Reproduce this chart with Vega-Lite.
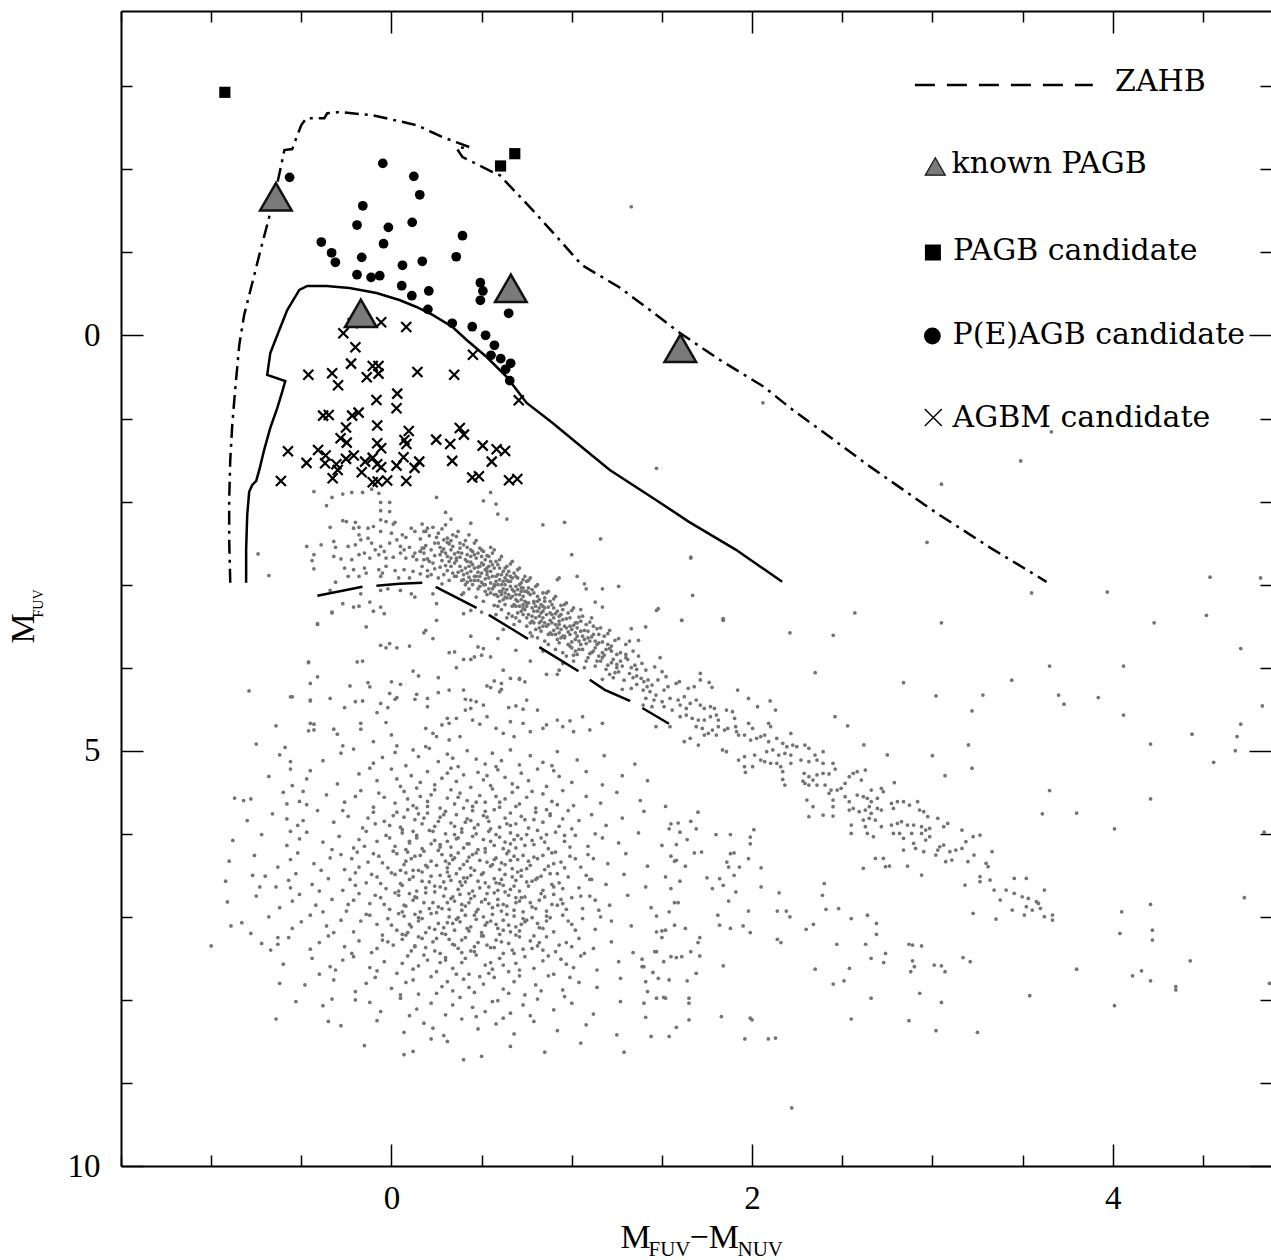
{
"$schema":"https://vega.github.io/schema/vega-lite/v6.json",
"width":1150,"height":1155,
"autosize":{"type":"none"},
"padding":{"left":121,"top":11,"right":0,"bottom":94},
"background":"white",
"config":{"view":{"stroke":null},"axis":{"grid":false,"domainColor":"#000","domainWidth":2,"tickColor":"#000","tickWidth":1.5,"labelFont":"Liberation Serif","labelFontSize":32,"labelColor":"#000","titleFont":"Liberation Serif","titleColor":"#000","titleFontWeight":"normal","labelFlush":false,"labelOverlap":false}},
"datasets":{
"dots":[
{"x":-0.43,"y":1.88},{"x":-0.36,"y":2.05},{"x":-0.33,"y":1.95},{"x":-0.27,"y":1.91},{"x":-0.22,"y":1.89},{"x":-0.16,"y":1.89},{"x":-0.11,"y":1.85},{"x":-0.07,"y":1.9},{"x":-0.06,"y":2.01},{"x":-0.01,"y":2.01},{"x":-0.06,"y":2.11},{"x":-0.01,"y":2.12},{"x":0.25,"y":1.95},{"x":0.3,"y":2.13},{"x":0.33,"y":2.21},{"x":0.51,"y":1.99},{"x":0.55,"y":1.89},{"x":0.58,"y":2.03},{"x":0.59,"y":2.15},{"x":0.64,"y":2.21},{"x":0.44,"y":2.26},{"x":0.84,"y":2.28},{"x":0.96,"y":2.25},{"x":1.16,"y":2.45},{"x":-0.34,"y":2.31},{"x":-0.27,"y":2.23},{"x":-0.25,"y":2.24},{"x":-0.2,"y":2.25},{"x":-0.18,"y":2.31},{"x":-0.21,"y":2.32},{"x":-0.18,"y":2.4},{"x":-0.13,"y":2.32},{"x":-0.1,"y":2.3},{"x":-0.06,"y":2.22},{"x":-0.03,"y":2.24},{"x":0.01,"y":2.27},{"x":0.02,"y":2.25},{"x":-0.06,"y":2.36},{"x":0.0,"y":2.38},{"x":0.03,"y":2.46},{"x":0.06,"y":2.4},{"x":0.08,"y":2.43},{"x":0.11,"y":2.32},{"x":0.13,"y":2.36},{"x":0.17,"y":2.27},{"x":0.18,"y":2.36},{"x":0.2,"y":2.32},{"x":-0.32,"y":2.48},{"x":-0.31,"y":2.55},{"x":-0.24,"y":2.54},{"x":-0.2,"y":2.52},{"x":-0.17,"y":2.46},{"x":-0.13,"y":2.44},{"x":-0.11,"y":2.5},{"x":-0.09,"y":2.58},{"x":-0.06,"y":2.54},{"x":-0.04,"y":2.6},{"x":-0.01,"y":2.5},{"x":0.05,"y":2.54},{"x":0.07,"y":2.58},{"x":0.1,"y":2.55},{"x":0.13,"y":2.62},{"x":0.16,"y":2.6},{"x":0.18,"y":2.56},{"x":-0.47,"y":2.54},{"x":-0.39,"y":2.52},{"x":-0.43,"y":2.64},{"x":-0.44,"y":2.71},{"x":-0.32,"y":2.66},{"x":-0.28,"y":2.69},{"x":-0.22,"y":2.7},{"x":-0.18,"y":2.64},{"x":-0.15,"y":2.62},{"x":-0.12,"y":2.68},{"x":-0.07,"y":2.64},{"x":-0.03,"y":2.68},{"x":0.01,"y":2.67},{"x":0.05,"y":2.62},{"x":0.08,"y":2.68},{"x":0.12,"y":2.66},{"x":0.14,"y":2.7},{"x":-0.26,"y":2.8},{"x":-0.21,"y":2.82},{"x":-0.15,"y":2.8},{"x":-0.14,"y":2.86},{"x":-0.07,"y":2.82},{"x":-0.05,"y":2.86},{"x":-0.03,"y":2.78},{"x":0.02,"y":2.83},{"x":0.07,"y":2.82},{"x":0.12,"y":2.84},{"x":-0.24,"y":2.9},{"x":-0.43,"y":2.81},{"x":-0.31,"y":2.97},{"x":-0.18,"y":2.9},{"x":-0.06,"y":2.9},{"x":0.04,"y":2.92},{"x":0.1,"y":2.92},{"x":0.16,"y":2.87},{"x":0.2,"y":2.9},{"x":-0.34,"y":3.07},{"x":-0.17,"y":3.11},{"x":-0.06,"y":3.07},{"x":-0.02,"y":3.05},{"x":0.05,"y":3.07},{"x":0.11,"y":3.11},{"x":0.13,"y":3.15},{"x":0.23,"y":3.11},{"x":0.25,"y":3.23},{"x":-0.27,"y":3.23},{"x":-0.21,"y":3.27},{"x":-0.18,"y":3.26},{"x":-0.12,"y":3.21},{"x":-0.1,"y":3.32},{"x":-0.06,"y":3.27},{"x":-0.04,"y":3.35},{"x":-0.33,"y":3.34},{"x":-0.41,"y":3.47},{"x":-0.14,"y":3.51},{"x":0.4,"y":3.35},{"x":0.44,"y":3.31},{"x":0.5,"y":3.33},{"x":0.25,"y":3.43},{"x":0.19,"y":3.55},{"x":0.18,"y":3.58},{"x":0.23,"y":3.65},{"x":0.44,"y":3.62},{"x":0.59,"y":3.65},{"x":0.62,"y":3.54},{"x":0.69,"y":3.79},{"x":0.77,"y":3.92},{"x":0.84,"y":3.8},{"x":-0.01,"y":3.71},{"x":-0.03,"y":3.76},{"x":-0.06,"y":3.73},{"x":0.03,"y":3.76},{"x":0.1,"y":3.74},{"x":-0.19,"y":3.93},{"x":-0.16,"y":3.92},{"x":-0.46,"y":3.94},{"x":-0.41,"y":4.11},{"x":-0.45,"y":4.19},{"x":0.12,"y":4.04},{"x":0.15,"y":4.1},{"x":0.26,"y":4.12},{"x":0.32,"y":3.82},{"x":0.35,"y":3.81},{"x":0.36,"y":4.0},{"x":0.4,"y":3.9},{"x":0.44,"y":3.9},{"x":0.46,"y":3.87},{"x":0.5,"y":3.85},{"x":0.55,"y":3.87},{"x":0.48,"y":3.75},{"x":0.51,"y":3.77},{"x":0.62,"y":4.03},{"x":0.57,"y":4.16},{"x":0.61,"y":4.19},{"x":0.66,"y":4.13},{"x":0.71,"y":4.13},{"x":0.74,"y":4.17},{"x":0.86,"y":4.08},{"x":0.92,"y":4.08},{"x":0.95,"y":3.95},{"x":0.93,"y":4.03},{"x":1.01,"y":3.85},{"x":-0.23,"y":4.22},{"x":-0.13,"y":4.18},{"x":-0.12,"y":4.23},{"x":0.0,"y":4.17},{"x":0.05,"y":4.2},{"x":-0.01,"y":4.31},{"x":0.03,"y":4.36},{"x":0.02,"y":4.38},{"x":0.14,"y":4.32},{"x":0.13,"y":4.38},{"x":0.2,"y":4.37},{"x":0.2,"y":4.47},{"x":0.26,"y":4.3},{"x":0.32,"y":4.27},{"x":0.4,"y":4.27},{"x":0.41,"y":4.38},{"x":0.44,"y":4.39},{"x":0.47,"y":4.41},{"x":0.51,"y":4.45},{"x":0.53,"y":4.22},{"x":0.55,"y":4.24},{"x":0.6,"y":4.29},{"x":0.61,"y":4.26},{"x":0.71,"y":4.14},{"x":0.75,"y":4.39},{"x":0.65,"y":4.48},{"x":0.69,"y":4.46},{"x":0.73,"y":4.5},{"x":0.81,"y":4.51},{"x":0.86,"y":4.69},{"x":0.84,"y":4.73},{"x":0.92,"y":4.63},{"x":0.95,"y":4.71},{"x":0.99,"y":4.64},{"x":1.01,"y":4.77},{"x":1.06,"y":4.59},{"x":1.1,"y":4.75},{"x":1.17,"y":4.67},{"x":-0.34,"y":4.37},{"x":-0.26,"y":4.48},{"x":-0.2,"y":4.41},{"x":-0.16,"y":4.4},{"x":-0.06,"y":4.43},{"x":-0.02,"y":4.48},{"x":-0.45,"y":4.39},{"x":-0.55,"y":4.35},{"x":-0.45,"y":4.67},{"x":-0.43,"y":4.75},{"x":-0.32,"y":4.74},{"x":-0.3,"y":4.8},{"x":-0.17,"y":4.74},{"x":-0.17,"y":4.67},{"x":-0.08,"y":4.54},{"x":-0.03,"y":4.66},{"x":0.0,"y":4.81},{"x":-0.1,"y":4.89},{"x":0.03,"y":4.94},{"x":0.19,"y":4.73},{"x":0.23,"y":4.79},{"x":0.28,"y":4.69},{"x":0.31,"y":4.61},{"x":0.32,"y":4.67},{"x":0.36,"y":4.61},{"x":0.41,"y":4.51},{"x":0.44,"y":4.49},{"x":0.45,"y":4.63},{"x":0.49,"y":4.68},{"x":0.53,"y":4.59},{"x":0.58,"y":4.73},{"x":0.62,"y":4.79},{"x":0.68,"y":4.83},{"x":0.77,"y":4.77},{"x":0.66,"y":4.65},{"x":0.73,"y":4.67},{"x":-0.27,"y":4.94},{"x":0.19,"y":4.95},{"x":0.25,"y":4.83},{"x":0.32,"y":4.87},{"x":0.38,"y":4.83},
{"x":1.47,"y":3.31},{"x":1.61,"y":3.43},{"x":1.67,"y":3.13},{"x":1.66,"y":2.67},{"x":1.84,"y":3.42},{"x":1.41,"y":3.51},{"x":1.33,"y":3.53},{"x":1.37,"y":3.67},{"x":1.49,"y":3.88},{"x":1.46,"y":3.99},{"x":1.26,"y":3.02},{"x":1.03,"y":2.9},{"x":1.08,"y":3.05},{"x":1.17,"y":3.05},{"x":1.13,"y":3.21},{"x":1.17,"y":3.27},{"x":1.07,"y":2.99},{"x":1.0,"y":2.64},{"x":0.92,"y":2.94},{"x":0.93,"y":2.92},
{"x":1.33,"y":-1.55},{"x":2.06,"y":0.81},{"x":1.47,"y":1.6},{"x":3.49,"y":1.51},{"x":3.05,"y":1.79},{"x":1.66,"y":2.68},{"x":2.97,"y":2.49},{"x":3.55,"y":3.1},{"x":3.97,"y":3.09},{"x":4.54,"y":2.91},{"x":4.82,"y":2.92},{"x":4.52,"y":3.37},{"x":2.57,"y":3.34},{"x":1.84,"y":3.41},{"x":1.48,"y":3.29},{"x":3.66,"y":1.16},{"x":2.22,"y":9.3},{"x":0.07,"y":8.66},{"x":0.22,"y":8.47},{"x":1.29,"y":8.63},
{"x":1.61,"y":3.43},{"x":1.84,"y":3.43},{"x":2.21,"y":3.58},{"x":2.45,"y":3.61},{"x":3.05,"y":3.46},{"x":4.23,"y":3.46},{"x":4.71,"y":3.77},{"x":3.65,"y":3.98},{"x":4.06,"y":3.98},{"x":3.44,"y":4.15},{"x":2.84,"y":4.18},{"x":3.02,"y":4.34},{"x":3.28,"y":4.33},{"x":3.7,"y":4.33},{"x":3.73,"y":4.44},{"x":3.92,"y":4.36},{"x":4.06,"y":4.57},{"x":4.83,"y":4.46},{"x":3.22,"y":4.52},{"x":2.46,"y":4.59},{"x":2.53,"y":4.7},{"x":4.44,"y":4.8},{"x":4.71,"y":4.68},{"x":4.69,"y":4.83},{"x":4.68,"y":5.0},{"x":4.56,"y":5.14},{"x":4.21,"y":4.92},{"x":3.2,"y":4.93},{"x":3.22,"y":5.21},{"x":3.0,"y":5.06},{"x":3.07,"y":5.3},{"x":2.75,"y":5.05},{"x":2.62,"y":4.93},{"x":2.35,"y":4.06},{"x":1.92,"y":4.27},{"x":1.98,"y":4.37},{"x":2.03,"y":4.47},{"x":2.1,"y":4.4},{"x":2.13,"y":4.51},{"x":3.65,"y":5.48},{"x":4.21,"y":5.58},{"x":3.61,"y":5.76},{"x":3.8,"y":5.75},{"x":4.01,"y":5.94},{"x":4.84,"y":5.98},{"x":4.73,"y":6.77},{"x":4.21,"y":6.85},{"x":4.05,"y":6.94},{"x":4.22,"y":7.16},{"x":4.22,"y":7.28},{"x":4.04,"y":7.2},{"x":3.8,"y":7.63},{"x":4.11,"y":7.71},{"x":4.16,"y":7.65},{"x":4.21,"y":7.77},{"x":4.35,"y":7.84},{"x":4.35,"y":7.88},{"x":4.43,"y":7.53},{"x":4.01,"y":8.07},{"x":4.87,"y":7.8},{"x":3.54,"y":7.95},{"x":3.25,"y":8.39},{"x":3.02,"y":8.37},{"x":3.05,"y":8.03},{"x":2.87,"y":8.25},{"x":2.55,"y":8.23},{"x":2.93,"y":7.92},{"x":2.66,"y":7.98},{"x":2.35,"y":7.63},{"x":2.45,"y":7.81},{"x":2.51,"y":7.77},{"x":2.54,"y":7.62},{"x":3.17,"y":7.49},{"x":3.21,"y":7.54},{"x":3.01,"y":7.58},{"x":3.05,"y":7.59},{"x":3.07,"y":7.66},{"x":2.88,"y":7.66},{"x":2.89,"y":7.53},{"x":2.9,"y":7.6},{"x":2.87,"y":7.33},{"x":2.89,"y":7.34},{"x":2.94,"y":7.35},{"x":2.73,"y":7.55},{"x":2.74,"y":7.44},{"x":2.66,"y":7.5},{"x":2.63,"y":7.33},{"x":2.69,"y":7.21},{"x":2.69,"y":7.08},{"x":2.64,"y":6.98},{"x":2.47,"y":7.33},{"x":2.55,"y":7.02},{"x":2.48,"y":6.9},{"x":2.41,"y":6.91},{"x":2.39,"y":6.74},{"x":2.4,"y":6.6},{"x":2.34,"y":7.09},{"x":2.3,"y":7.15},{"x":2.21,"y":7.0},{"x":2.19,"y":6.93},{"x":2.15,"y":6.71},{"x":2.14,"y":6.93},{"x":2.16,"y":7.31},{"x":2.14,"y":7.27},{"x":2.05,"y":6.64},{"x":2.05,"y":6.41},{"x":1.99,"y":7.19},{"x":1.98,"y":6.93},{"x":1.95,"y":7.11},{"x":1.88,"y":7.14},{"x":1.82,"y":7.1},{"x":1.81,"y":6.98},{"x":1.84,"y":7.59},{"x":1.87,"y":6.81},{"x":1.91,"y":6.7},{"x":1.84,"y":6.62},{"x":1.78,"y":6.66},{"x":1.82,"y":6.54},{"x":1.75,"y":6.53},{"x":1.9,"y":6.5},{"x":1.9,"y":6.23},{"x":1.86,"y":6.34},{"x":1.87,"y":6.4},{"x":1.93,"y":6.4},{"x":1.98,"y":6.3},{"x":1.88,"y":6.24},{"x":1.99,"y":6.12},{"x":1.99,"y":6.04},{"x":1.88,"y":6.01},{"x":2.01,"y":5.95},{"x":1.8,"y":6.01},{"x":1.72,"y":6.22},{"x":1.68,"y":6.23},{"x":1.63,"y":6.39},{"x":1.6,"y":5.98},{"x":1.54,"y":5.94},{"x":1.59,"y":5.87},{"x":1.66,"y":5.85},{"x":1.7,"y":5.74},{"x":1.69,"y":5.94},{"x":1.58,"y":6.13},{"x":1.55,"y":6.27},{"x":1.57,"y":6.33},{"x":1.52,"y":6.52},{"x":1.55,"y":6.66},{"x":1.57,"y":6.83},{"x":1.59,"y":6.83},{"x":1.54,"y":6.94},{"x":1.57,"y":7.1},{"x":1.52,"y":7.16},{"x":1.5,"y":7.17},{"x":1.47,"y":7.18},{"x":1.51,"y":7.54},{"x":1.46,"y":7.42},{"x":1.47,"y":7.42},{"x":1.55,"y":7.48},{"x":1.61,"y":7.48},{"x":1.66,"y":7.42},{"x":1.71,"y":7.47},{"x":1.7,"y":7.31},{"x":1.71,"y":7.25},{"x":1.69,"y":7.68},{"x":1.64,"y":7.77},{"x":1.54,"y":7.76},{"x":1.48,"y":7.74},{"x":1.45,"y":7.67},{"x":1.41,"y":7.78},{"x":1.39,"y":7.6},{"x":1.39,"y":7.51},{"x":1.47,"y":7.98},{"x":1.51,"y":7.97},{"x":1.52,"y":7.98},{"x":1.65,"y":7.98},{"x":1.65,"y":8.04},{"x":1.4,"y":8.04},{"x":1.41,"y":8.21},{"x":1.65,"y":8.24},{"x":1.58,"y":8.33},{"x":1.83,"y":8.2},{"x":1.99,"y":8.22},{"x":2.0,"y":8.24},{"x":1.44,"y":8.44},{"x":1.54,"y":8.44},{"x":1.96,"y":8.47},{"x":2.09,"y":8.47},{"x":2.13,"y":8.46},
{"x":1.389,"y":3.948},{"x":1.411,"y":4.028},{"x":1.385,"y":4.128},{"x":1.4,"y":4.169},{"x":1.423,"y":4.148},{"x":1.418,"y":4.229},{"x":1.445,"y":4.209},{"x":1.478,"y":4.148},{"x":1.501,"y":4.048},{"x":1.523,"y":4.108},{"x":1.396,"y":4.269},{"x":1.434,"y":4.289},{"x":1.467,"y":4.329},{"x":1.512,"y":4.269},{"x":1.534,"y":4.229},{"x":1.579,"y":4.189},{"x":1.597,"y":4.169},{"x":1.411,"y":4.369},{"x":1.456,"y":4.389},{"x":1.501,"y":4.409},{"x":1.545,"y":4.369},{"x":1.59,"y":4.389},{"x":1.624,"y":4.349},{"x":1.646,"y":4.249},{"x":1.679,"y":4.229},{"x":1.713,"y":4.068},{"x":1.713,"y":4.148},{"x":1.762,"y":4.177},{"x":1.778,"y":4.237},{"x":1.396,"y":4.45},{"x":1.445,"y":4.47},{"x":1.512,"y":4.47},{"x":1.557,"y":4.51},{"x":1.601,"y":4.45},{"x":1.635,"y":4.49},{"x":1.657,"y":4.43},{"x":1.69,"y":4.389},{"x":1.713,"y":4.45},{"x":1.735,"y":4.49},{"x":1.769,"y":4.47},{"x":1.791,"y":4.49},{"x":1.601,"y":4.59},{"x":1.635,"y":4.57},{"x":1.668,"y":4.61},{"x":1.702,"y":4.63},{"x":1.735,"y":4.63},{"x":1.769,"y":4.59},{"x":1.802,"y":4.57},{"x":1.813,"y":4.63},{"x":1.858,"y":4.51},{"x":1.891,"y":4.53},{"x":1.903,"y":4.61},{"x":1.467,"y":4.71},{"x":1.545,"y":4.71},{"x":1.69,"y":4.71},{"x":1.724,"y":4.731},{"x":1.757,"y":4.791},{"x":1.78,"y":4.751},{"x":1.813,"y":4.71},{"x":1.847,"y":4.751},{"x":1.865,"y":4.731},{"x":1.909,"y":4.71},{"x":1.925,"y":4.811},{"x":1.981,"y":4.67},{"x":2.003,"y":4.731},{"x":2.092,"y":4.67},{"x":2.103,"y":4.71},{"x":1.624,"y":4.891},{"x":1.657,"y":4.851},{"x":1.702,"y":4.931},{"x":1.735,"y":4.811},{"x":1.802,"y":4.811},{"x":1.836,"y":4.991},{"x":1.858,"y":5.012},{"x":1.914,"y":4.771},{"x":1.958,"y":4.811},{"x":1.992,"y":4.871},{"x":2.025,"y":4.851},{"x":2.048,"y":4.831},{"x":2.07,"y":4.811},{"x":2.092,"y":4.891},{"x":2.137,"y":4.851},{"x":2.17,"y":4.911},{"x":2.193,"y":4.951},{"x":2.215,"y":4.791},{"x":2.226,"y":4.931},{"x":2.248,"y":4.951},{"x":2.293,"y":4.931},{"x":2.315,"y":4.971},{"x":2.349,"y":5.052},{"x":2.394,"y":5.012},{"x":2.115,"y":4.991},{"x":2.148,"y":5.052},{"x":2.182,"y":5.032},{"x":2.215,"y":5.052},{"x":2.081,"y":5.012},{"x":2.048,"y":5.112},{"x":2.014,"y":5.052},{"x":1.958,"y":5.072},{"x":1.925,"y":5.112},{"x":1.958,"y":5.192},{"x":1.963,"y":5.26},{"x":2.003,"y":5.192},{"x":2.07,"y":5.132},{"x":2.103,"y":5.152},{"x":2.137,"y":5.152},{"x":2.159,"y":5.192},{"x":2.17,"y":5.252},{"x":2.215,"y":5.152},{"x":2.271,"y":5.112},{"x":2.315,"y":5.132},{"x":2.36,"y":5.112},{"x":2.394,"y":5.152},{"x":2.449,"y":5.152},{"x":2.289,"y":5.272},{"x":2.315,"y":5.313},{"x":2.338,"y":5.353},{"x":2.36,"y":5.292},{"x":2.394,"y":5.272},{"x":2.427,"y":5.28},{"x":2.461,"y":5.22},{"x":2.17,"y":5.345},{"x":2.182,"y":5.413},{"x":2.282,"y":5.365},{"x":2.293,"y":5.393},{"x":2.315,"y":5.413},{"x":2.36,"y":5.413},{"x":2.405,"y":5.413},{"x":2.427,"y":5.513},{"x":2.438,"y":5.473},{"x":2.472,"y":5.473},{"x":2.494,"y":5.453},{"x":2.516,"y":5.393},{"x":2.539,"y":5.313},{"x":2.561,"y":5.272},{"x":2.583,"y":5.252},{"x":2.606,"y":5.353},{"x":2.628,"y":5.232},{"x":2.449,"y":5.594},{"x":2.516,"y":5.553},{"x":2.539,"y":5.614},{"x":2.583,"y":5.533},{"x":2.617,"y":5.553},{"x":2.639,"y":5.573},{"x":2.661,"y":5.473},{"x":2.661,"y":5.614},{"x":2.695,"y":5.573},{"x":2.717,"y":5.453},{"x":2.728,"y":5.493},{"x":2.789,"y":5.385},{"x":2.304,"y":5.594},{"x":2.315,"y":5.794},{"x":2.338,"y":5.674},{"x":2.394,"y":5.774},{"x":2.449,"y":5.674},{"x":2.449,"y":5.786},{"x":2.539,"y":5.714},{"x":2.561,"y":5.694},{"x":2.594,"y":5.734},{"x":2.628,"y":5.714},{"x":2.65,"y":5.674},{"x":2.661,"y":5.754},{"x":2.695,"y":5.694},{"x":2.717,"y":5.714},{"x":2.773,"y":5.634},{"x":2.784,"y":5.694},{"x":2.806,"y":5.614},{"x":2.84,"y":5.614},{"x":2.873,"y":5.654},{"x":2.918,"y":5.614},{"x":2.929,"y":5.714},{"x":2.952,"y":5.734},{"x":2.974,"y":5.794},{"x":2.617,"y":5.834},{"x":2.65,"y":5.814},{"x":2.684,"y":5.834},{"x":2.628,"y":5.915},{"x":2.55,"y":5.895},{"x":2.55,"y":5.995},{"x":2.639,"y":5.995},{"x":2.673,"y":6.035},{"x":2.717,"y":5.915},{"x":2.773,"y":5.895},{"x":2.806,"y":5.875},{"x":2.829,"y":5.854},{"x":2.862,"y":5.895},{"x":2.896,"y":5.895},{"x":2.94,"y":5.915},{"x":2.963,"y":5.955},{"x":2.985,"y":5.935},{"x":3.03,"y":5.814},{"x":3.063,"y":5.915},{"x":3.085,"y":5.875},{"x":2.784,"y":5.995},{"x":2.818,"y":5.995},{"x":2.84,"y":6.055},{"x":2.885,"y":5.995},{"x":2.896,"y":6.115},{"x":2.94,"y":5.995},{"x":2.963,"y":6.075},{"x":2.985,"y":6.035},{"x":3.03,"y":6.196},{"x":3.041,"y":6.156},{"x":3.063,"y":6.135},{"x":3.097,"y":6.216},{"x":3.13,"y":6.196},{"x":3.164,"y":6.176},{"x":3.186,"y":6.095},{"x":3.164,"y":5.955},{"x":3.226,"y":6.035},{"x":3.264,"y":6.015},{"x":2.84,"y":6.196},{"x":2.907,"y":6.176},{"x":2.952,"y":6.216},{"x":3.019,"y":6.256},{"x":3.074,"y":6.336},{"x":3.108,"y":6.316},{"x":3.197,"y":6.336},{"x":3.231,"y":6.256},{"x":3.298,"y":6.356},{"x":3.309,"y":6.396},{"x":3.32,"y":6.557},{"x":3.264,"y":6.517},{"x":3.342,"y":6.677},{"x":3.376,"y":6.798},{"x":3.409,"y":6.677},{"x":3.454,"y":6.537},{"x":3.521,"y":6.537},{"x":3.454,"y":6.717},{"x":3.498,"y":6.758},{"x":3.532,"y":6.778},{"x":3.577,"y":6.818},{"x":3.588,"y":6.838},{"x":3.621,"y":6.677},{"x":3.599,"y":6.898},{"x":3.554,"y":6.918},{"x":3.51,"y":6.978},{"x":3.521,"y":6.878},{"x":3.621,"y":6.998},{"x":3.666,"y":6.978},{"x":3.666,"y":7.039},{"x":3.443,"y":6.918},{"x":3.353,"y":7.027},{"x":2.684,"y":6.296},{"x":2.728,"y":6.296},{"x":2.762,"y":6.388},{"x":2.862,"y":6.388},{"x":2.617,"y":6.416},{"x":2.74,"y":6.396},{"x":2.94,"y":6.497},{"x":3.264,"y":6.577},{"x":3.226,"y":6.958},{"x":3.181,"y":6.617},{"x":3.331,"y":6.216},
{"x":0.16,"y":2.45},{"x":0.18,"y":2.62},{"x":0.17,"y":2.78},{"x":0.19,"y":2.53},{"x":0.2,"y":2.69},{"x":0.21,"y":2.41},{"x":0.22,"y":2.58},{"x":0.23,"y":2.74},{"x":0.24,"y":2.5},{"x":0.22,"y":2.88},{"x":0.19,"y":2.36},{"x":0.24,"y":2.65},{"x":0.17,"y":2.56},{"x":0.2,"y":2.83},{"x":0.25,"y":2.43},{"x":0.21,"y":2.72},{"x":0.23,"y":2.31},{"x":0.18,"y":2.7},{"x":0.24,"y":2.81},{"x":0.16,"y":2.6},
{"x":0.26,"y":2.38},{"x":0.27,"y":2.55},{"x":0.28,"y":2.71},{"x":0.29,"y":2.46},{"x":0.3,"y":2.62},{"x":0.31,"y":2.83},{"x":0.32,"y":2.51},{"x":0.33,"y":2.68},{"x":0.34,"y":2.4},{"x":0.26,"y":2.92},{"x":0.28,"y":2.33},{"x":0.3,"y":2.77},{"x":0.32,"y":2.95},{"x":0.33,"y":2.58},{"x":0.35,"y":2.74},{"x":0.27,"y":2.64},{"x":0.29,"y":2.88},{"x":0.31,"y":2.44},{"x":0.34,"y":2.86},{"x":0.26,"y":2.5},{"x":0.28,"y":2.99},{"x":0.3,"y":2.28},{"x":0.32,"y":2.72},{"x":0.34,"y":2.54},{"x":0.35,"y":2.63},{"x":0.27,"y":2.79},{"x":0.31,"y":2.66},{"x":0.33,"y":2.47},{"x":0.29,"y":2.57},{"x":0.35,"y":2.9},
{"x":0.36,"y":2.42},{"x":0.37,"y":2.61},{"x":0.38,"y":2.78},{"x":0.39,"y":2.95},{"x":0.4,"y":2.52},{"x":0.41,"y":2.7},{"x":0.42,"y":2.86},{"x":0.43,"y":3.05},{"x":0.44,"y":2.58},{"x":0.45,"y":2.76},{"x":0.36,"y":2.9},{"x":0.37,"y":2.36},{"x":0.38,"y":2.67},{"x":0.39,"y":2.83},{"x":0.4,"y":3.1},{"x":0.41,"y":2.47},{"x":0.42,"y":2.64},{"x":0.43,"y":2.91},{"x":0.44,"y":2.73},{"x":0.45,"y":3.0},{"x":0.36,"y":2.71},{"x":0.38,"y":2.5},{"x":0.39,"y":2.62},{"x":0.4,"y":2.88},{"x":0.41,"y":3.0},{"x":0.42,"y":2.55},{"x":0.43,"y":2.78},{"x":0.44,"y":2.95},{"x":0.45,"y":2.6},{"x":0.37,"y":2.85},{"x":0.39,"y":3.12},{"x":0.41,"y":2.8},{"x":0.43,"y":2.4},{"x":0.44,"y":2.84},{"x":0.42,"y":2.97},
{"x":0.46,"y":2.5},{"x":0.47,"y":2.68},{"x":0.48,"y":2.85},{"x":0.49,"y":3.02},{"x":0.5,"y":2.58},{"x":0.51,"y":2.76},{"x":0.52,"y":2.93},{"x":0.53,"y":3.12},{"x":0.54,"y":2.66},{"x":0.55,"y":2.84},{"x":0.46,"y":2.95},{"x":0.47,"y":3.15},{"x":0.48,"y":2.62},{"x":0.49,"y":2.78},{"x":0.5,"y":2.97},{"x":0.51,"y":3.2},{"x":0.52,"y":2.7},{"x":0.53,"y":2.88},{"x":0.54,"y":3.05},{"x":0.55,"y":2.55},{"x":0.46,"y":2.8},{"x":0.47,"y":2.47},{"x":0.48,"y":3.05},{"x":0.49,"y":2.9},{"x":0.5,"y":2.74},{"x":0.51,"y":2.6},{"x":0.52,"y":3.08},{"x":0.53,"y":2.8},{"x":0.54,"y":2.92},{"x":0.55,"y":3.1},{"x":0.46,"y":2.64},{"x":0.48,"y":2.95},{"x":0.49,"y":2.56},{"x":0.5,"y":2.86},{"x":0.51,"y":3.0},{"x":0.52,"y":2.82},{"x":0.53,"y":2.65},{"x":0.54,"y":2.78},{"x":0.55,"y":2.98},{"x":0.47,"y":2.9},
{"x":0.56,"y":2.62},{"x":0.57,"y":2.8},{"x":0.58,"y":2.96},{"x":0.59,"y":3.14},{"x":0.6,"y":2.7},{"x":0.61,"y":2.88},{"x":0.62,"y":3.05},{"x":0.63,"y":3.24},{"x":0.64,"y":2.78},{"x":0.65,"y":2.96},{"x":0.56,"y":3.05},{"x":0.57,"y":3.25},{"x":0.58,"y":2.72},{"x":0.59,"y":2.88},{"x":0.6,"y":3.08},{"x":0.61,"y":3.3},{"x":0.62,"y":2.84},{"x":0.63,"y":3.0},{"x":0.64,"y":3.16},{"x":0.65,"y":3.35},{"x":0.56,"y":2.9},{"x":0.57,"y":2.58},{"x":0.58,"y":3.12},{"x":0.59,"y":3.0},{"x":0.6,"y":2.94},{"x":0.61,"y":2.66},{"x":0.62,"y":3.18},{"x":0.63,"y":2.92},{"x":0.64,"y":3.06},{"x":0.65,"y":2.84},{"x":0.56,"y":2.76},{"x":0.57,"y":3.0},{"x":0.58,"y":3.36},{"x":0.59,"y":2.76},{"x":0.6,"y":3.2},{"x":0.61,"y":3.0},{"x":0.62,"y":2.96},{"x":0.63,"y":3.1},{"x":0.64,"y":2.95},{"x":0.65,"y":3.12},{"x":0.57,"y":3.12},{"x":0.59,"y":3.26},{"x":0.61,"y":3.12},{"x":0.63,"y":2.8},{"x":0.64,"y":3.4},
{"x":0.66,"y":2.75},{"x":0.67,"y":2.92},{"x":0.68,"y":3.08},{"x":0.69,"y":3.26},{"x":0.7,"y":2.82},{"x":0.71,"y":3.0},{"x":0.72,"y":3.18},{"x":0.73,"y":3.36},{"x":0.74,"y":2.9},{"x":0.75,"y":3.08},{"x":0.66,"y":3.16},{"x":0.67,"y":3.38},{"x":0.68,"y":2.86},{"x":0.69,"y":3.02},{"x":0.7,"y":3.2},{"x":0.71,"y":3.44},{"x":0.72,"y":2.98},{"x":0.73,"y":3.14},{"x":0.74,"y":3.3},{"x":0.75,"y":3.5},{"x":0.66,"y":3.02},{"x":0.67,"y":2.72},{"x":0.68,"y":3.24},{"x":0.69,"y":3.12},{"x":0.7,"y":3.06},{"x":0.71,"y":2.8},{"x":0.72,"y":3.32},{"x":0.73,"y":3.04},{"x":0.74,"y":3.2},{"x":0.75,"y":2.96},{"x":0.66,"y":2.9},{"x":0.67,"y":3.14},{"x":0.68,"y":3.48},{"x":0.69,"y":2.9},{"x":0.7,"y":3.34},{"x":0.71,"y":3.12},{"x":0.72,"y":3.08},{"x":0.73,"y":3.24},{"x":0.74,"y":3.08},{"x":0.75,"y":3.26},{"x":0.67,"y":3.26},{"x":0.69,"y":3.4},{"x":0.71,"y":3.26},{"x":0.73,"y":2.94},{"x":0.75,"y":3.4},
{"x":0.76,"y":2.95},{"x":0.77,"y":3.12},{"x":0.78,"y":3.28},{"x":0.79,"y":3.46},{"x":0.8,"y":3.02},{"x":0.81,"y":3.2},{"x":0.82,"y":3.38},{"x":0.83,"y":3.56},{"x":0.84,"y":3.1},{"x":0.85,"y":3.28},{"x":0.76,"y":3.36},{"x":0.77,"y":3.58},{"x":0.78,"y":3.06},{"x":0.79,"y":3.22},{"x":0.8,"y":3.4},{"x":0.81,"y":3.64},{"x":0.82,"y":3.18},{"x":0.83,"y":3.34},{"x":0.84,"y":3.5},{"x":0.85,"y":3.68},{"x":0.76,"y":3.22},{"x":0.77,"y":2.92},{"x":0.78,"y":3.44},{"x":0.79,"y":3.32},{"x":0.8,"y":3.26},{"x":0.81,"y":3.0},{"x":0.82,"y":3.52},{"x":0.83,"y":3.24},{"x":0.84,"y":3.4},{"x":0.85,"y":3.16},{"x":0.76,"y":3.1},{"x":0.78,"y":3.62},{"x":0.79,"y":3.1},{"x":0.8,"y":3.54},{"x":0.81,"y":3.32},{"x":0.82,"y":3.28},{"x":0.83,"y":3.44},{"x":0.84,"y":3.26},{"x":0.85,"y":3.46},{"x":0.77,"y":3.46},
{"x":0.86,"y":3.1},{"x":0.87,"y":3.27},{"x":0.88,"y":3.43},{"x":0.89,"y":3.6},{"x":0.9,"y":3.17},{"x":0.91,"y":3.35},{"x":0.92,"y":3.52},{"x":0.93,"y":3.7},{"x":0.94,"y":3.25},{"x":0.95,"y":3.42},{"x":0.86,"y":3.5},{"x":0.87,"y":3.72},{"x":0.88,"y":3.2},{"x":0.89,"y":3.36},{"x":0.9,"y":3.55},{"x":0.91,"y":3.78},{"x":0.92,"y":3.32},{"x":0.93,"y":3.48},{"x":0.94,"y":3.64},{"x":0.95,"y":3.82},{"x":0.86,"y":3.36},{"x":0.87,"y":3.08},{"x":0.88,"y":3.58},{"x":0.89,"y":3.46},{"x":0.9,"y":3.4},{"x":0.91,"y":3.14},{"x":0.92,"y":3.66},{"x":0.93,"y":3.38},{"x":0.94,"y":3.54},{"x":0.95,"y":3.3},{"x":0.87,"y":3.6},{"x":0.89,"y":3.24},{"x":0.91,"y":3.48},{"x":0.93,"y":3.58},{"x":0.95,"y":3.62},
{"x":0.96,"y":3.24},{"x":0.97,"y":3.41},{"x":0.98,"y":3.57},{"x":0.99,"y":3.74},{"x":1.0,"y":3.31},{"x":1.01,"y":3.49},{"x":1.02,"y":3.66},{"x":1.03,"y":3.84},{"x":1.04,"y":3.39},{"x":1.05,"y":3.56},{"x":0.96,"y":3.64},{"x":0.97,"y":3.86},{"x":0.98,"y":3.34},{"x":0.99,"y":3.5},{"x":1.0,"y":3.69},{"x":1.01,"y":3.92},{"x":1.02,"y":3.46},{"x":1.03,"y":3.62},{"x":1.04,"y":3.78},{"x":1.05,"y":3.3},{"x":0.96,"y":3.5},{"x":0.97,"y":3.22},{"x":0.98,"y":3.72},{"x":0.99,"y":3.6},{"x":1.0,"y":3.54},{"x":1.01,"y":3.28},{"x":1.02,"y":3.8},{"x":1.03,"y":3.52},{"x":1.04,"y":3.68},{"x":1.05,"y":3.44},
{"x":1.06,"y":3.38},{"x":1.07,"y":3.55},{"x":1.08,"y":3.71},{"x":1.09,"y":3.88},{"x":1.1,"y":3.45},{"x":1.11,"y":3.63},{"x":1.12,"y":3.8},{"x":1.13,"y":3.98},{"x":1.14,"y":3.53},{"x":1.15,"y":3.7},{"x":1.06,"y":3.78},{"x":1.07,"y":4.0},{"x":1.08,"y":3.48},{"x":1.09,"y":3.64},{"x":1.1,"y":3.83},{"x":1.11,"y":3.4},{"x":1.12,"y":3.6},{"x":1.13,"y":3.76},{"x":1.14,"y":3.92},{"x":1.15,"y":3.86},{"x":1.06,"y":3.62},{"x":1.08,"y":3.92},{"x":1.1,"y":3.68},{"x":1.12,"y":3.5},{"x":1.14,"y":3.72},
{"x":1.16,"y":3.52},{"x":1.17,"y":3.69},{"x":1.18,"y":3.85},{"x":1.19,"y":4.02},{"x":1.2,"y":3.59},{"x":1.21,"y":3.77},{"x":1.22,"y":3.94},{"x":1.23,"y":4.12},{"x":1.24,"y":3.67},{"x":1.25,"y":3.84},{"x":1.16,"y":3.92},{"x":1.17,"y":4.14},{"x":1.18,"y":3.62},{"x":1.19,"y":3.78},{"x":1.2,"y":3.97},{"x":1.21,"y":3.55},{"x":1.22,"y":3.74},{"x":1.23,"y":3.9},{"x":1.24,"y":4.06},{"x":1.25,"y":4.0},{"x":1.17,"y":3.82},{"x":1.21,"y":4.08},
{"x":1.26,"y":3.65},{"x":1.27,"y":3.82},{"x":1.28,"y":3.98},{"x":1.29,"y":4.15},{"x":1.3,"y":3.72},{"x":1.31,"y":3.9},{"x":1.32,"y":4.07},{"x":1.33,"y":4.25},{"x":1.34,"y":3.8},{"x":1.35,"y":3.97},{"x":1.26,"y":4.05},{"x":1.28,"y":4.26},{"x":1.3,"y":3.88},{"x":1.32,"y":3.68},{"x":1.34,"y":4.12},{"x":1.36,"y":4.02},{"x":1.37,"y":3.86},{"x":1.36,"y":4.2},
{"x":0.28,"y":2.6},{"x":0.33,"y":2.78},{"x":0.38,"y":2.56},{"x":0.42,"y":2.72},{"x":0.46,"y":2.9},{"x":0.5,"y":2.66},{"x":0.53,"y":2.84},{"x":0.57,"y":3.02},{"x":0.6,"y":2.8},{"x":0.63,"y":3.15},{"x":0.66,"y":2.96},{"x":0.69,"y":3.18},{"x":0.72,"y":3.04},{"x":0.75,"y":3.22},{"x":0.78,"y":3.38},{"x":0.81,"y":3.14},{"x":0.84,"y":3.32},{"x":0.87,"y":3.48},{"x":0.9,"y":3.28},{"x":0.93,"y":3.44},{"x":0.96,"y":3.62},{"x":0.99,"y":3.4},{"x":1.02,"y":3.58},{"x":1.05,"y":3.72},{"x":1.09,"y":3.56},{"x":1.13,"y":3.68},{"x":1.17,"y":3.88},{"x":1.22,"y":3.8},{"x":1.27,"y":3.92},{"x":1.33,"y":4.0},{"x":0.31,"y":2.49},{"x":0.36,"y":2.68},{"x":0.4,"y":2.94},{"x":0.44,"y":2.66},{"x":0.48,"y":2.79},{"x":0.52,"y":3.0},{"x":0.55,"y":2.72},{"x":0.58,"y":2.9},{"x":0.61,"y":3.08},{"x":0.64,"y":2.88},{"x":0.67,"y":3.06},{"x":0.7,"y":2.92},{"x":0.73,"y":3.28},{"x":0.76,"y":3.04},{"x":0.79,"y":3.2},{"x":0.82,"y":3.46},{"x":0.85,"y":3.2},{"x":0.88,"y":3.34},{"x":0.91,"y":3.6},{"x":0.94,"y":3.36},{"x":0.97,"y":3.52},{"x":1.0,"y":3.76},{"x":1.03,"y":3.46},{"x":1.07,"y":3.66},{"x":1.11,"y":3.82},{"x":1.15,"y":3.6},{"x":1.2,"y":3.72},{"x":1.25,"y":3.96},{"x":1.3,"y":3.84},{"x":1.36,"y":4.1},
{"x":-0.62,"y":5.05},{"x":-0.38,"y":5.12},{"x":-0.21,"y":4.98},{"x":-0.1,"y":5.15},{"x":0.02,"y":5.02},{"x":0.08,"y":5.18},{"x":0.15,"y":5.07},{"x":0.21,"y":4.97},{"x":0.26,"y":5.13},{"x":0.31,"y":5.04},{"x":0.37,"y":5.19},{"x":0.42,"y":5.0},{"x":0.47,"y":5.1},{"x":0.52,"y":5.16},{"x":0.56,"y":5.03},{"x":0.61,"y":5.12},{"x":0.66,"y":4.99},{"x":0.71,"y":5.17},{"x":0.77,"y":5.06},{"x":0.84,"y":5.14},{"x":0.92,"y":5.01},{"x":1.03,"y":5.11},{"x":1.18,"y":5.06},{"x":1.35,"y":5.16},{"x":-0.05,"y":5.08},{"x":0.12,"y":4.99},{"x":0.34,"y":5.09},{"x":0.58,"y":5.19},{"x":0.89,"y":5.18},{"x":-0.28,"y":5.03},
{"x":-0.68,"y":5.31},{"x":-0.45,"y":5.24},{"x":-0.3,"y":5.4},{"x":-0.18,"y":5.28},{"x":-0.08,"y":5.36},{"x":0.0,"y":5.22},{"x":0.05,"y":5.43},{"x":0.11,"y":5.3},{"x":0.16,"y":5.38},{"x":0.2,"y":5.25},{"x":0.24,"y":5.41},{"x":0.28,"y":5.33},{"x":0.33,"y":5.21},{"x":0.36,"y":5.37},{"x":0.4,"y":5.29},{"x":0.44,"y":5.44},{"x":0.48,"y":5.26},{"x":0.51,"y":5.35},{"x":0.55,"y":5.42},{"x":0.59,"y":5.23},{"x":0.63,"y":5.32},{"x":0.67,"y":5.4},{"x":0.72,"y":5.27},{"x":0.76,"y":5.36},{"x":0.81,"y":5.22},{"x":0.86,"y":5.43},{"x":0.93,"y":5.31},{"x":1.0,"y":5.38},{"x":1.08,"y":5.25},{"x":1.17,"y":5.41},{"x":1.28,"y":5.3},{"x":1.42,"y":5.36},{"x":-0.55,"y":5.42},{"x":-0.12,"y":5.21},{"x":0.14,"y":5.45},{"x":0.31,"y":5.27},{"x":0.53,"y":5.3},{"x":0.7,"y":5.44},{"x":0.9,"y":5.24},{"x":0.03,"y":5.34},
{"x":-0.78,"y":5.58},{"x":-0.6,"y":5.5},{"x":-0.47,"y":5.65},{"x":-0.36,"y":5.53},{"x":-0.26,"y":5.62},{"x":-0.17,"y":5.48},{"x":-0.1,"y":5.68},{"x":-0.04,"y":5.56},{"x":0.02,"y":5.63},{"x":0.07,"y":5.49},{"x":0.12,"y":5.66},{"x":0.16,"y":5.55},{"x":0.2,"y":5.61},{"x":0.24,"y":5.47},{"x":0.27,"y":5.69},{"x":0.31,"y":5.57},{"x":0.35,"y":5.64},{"x":0.38,"y":5.51},{"x":0.42,"y":5.6},{"x":0.45,"y":5.67},{"x":0.49,"y":5.54},{"x":0.52,"y":5.62},{"x":0.56,"y":5.46},{"x":0.6,"y":5.68},{"x":0.63,"y":5.58},{"x":0.67,"y":5.5},{"x":0.71,"y":5.64},{"x":0.75,"y":5.56},{"x":0.8,"y":5.69},{"x":0.84,"y":5.52},{"x":0.89,"y":5.61},{"x":0.95,"y":5.48},{"x":1.01,"y":5.66},{"x":1.08,"y":5.55},{"x":1.16,"y":5.63},{"x":1.25,"y":5.5},{"x":1.38,"y":5.6},{"x":1.52,"y":5.67},{"x":-0.2,"y":5.55},{"x":0.09,"y":5.58},{"x":0.22,"y":5.53},{"x":0.33,"y":5.47},{"x":0.47,"y":5.62},{"x":0.58,"y":5.55},{"x":0.69,"y":5.67},{"x":0.78,"y":5.49},{"x":0.92,"y":5.65},{"x":-0.07,"y":5.51},{"x":0.14,"y":5.69},{"x":0.4,"y":5.69},
{"x":-0.8,"y":5.84},{"x":-0.66,"y":5.76},{"x":-0.52,"y":5.9},{"x":-0.41,"y":5.72},{"x":-0.32,"y":5.86},{"x":-0.24,"y":5.79},{"x":-0.16,"y":5.93},{"x":-0.1,"y":5.74},{"x":-0.04,"y":5.85},{"x":0.01,"y":5.78},{"x":0.05,"y":5.92},{"x":0.09,"y":5.71},{"x":0.13,"y":5.83},{"x":0.17,"y":5.88},{"x":0.2,"y":5.75},{"x":0.24,"y":5.91},{"x":0.27,"y":5.8},{"x":0.3,"y":5.73},{"x":0.33,"y":5.87},{"x":0.36,"y":5.77},{"x":0.39,"y":5.94},{"x":0.42,"y":5.82},{"x":0.45,"y":5.72},{"x":0.48,"y":5.89},{"x":0.51,"y":5.78},{"x":0.54,"y":5.85},{"x":0.57,"y":5.71},{"x":0.6,"y":5.92},{"x":0.63,"y":5.81},{"x":0.66,"y":5.75},{"x":0.69,"y":5.88},{"x":0.72,"y":5.79},{"x":0.76,"y":5.93},{"x":0.8,"y":5.74},{"x":0.84,"y":5.86},{"x":0.88,"y":5.78},{"x":0.93,"y":5.91},{"x":0.98,"y":5.72},{"x":1.04,"y":5.84},{"x":1.11,"y":5.77},{"x":1.19,"y":5.9},{"x":1.28,"y":5.81},{"x":1.4,"y":5.73},{"x":1.55,"y":5.88},{"x":-0.58,"y":5.82},{"x":-0.27,"y":5.72},{"x":-0.01,"y":5.9},{"x":0.15,"y":5.76},{"x":0.26,"y":5.85},{"x":0.35,"y":5.91},{"x":0.44,"y":5.84},{"x":0.55,"y":5.94},{"x":0.64,"y":5.88},{"x":0.74,"y":5.83},{"x":0.86,"y":5.71},{"x":0.95,"y":5.82},{"x":-0.13,"y":5.81},{"x":0.07,"y":5.8},{"x":0.52,"y":5.73},{"x":1.0,"y":5.94},
{"x":-0.88,"y":6.08},{"x":-0.72,"y":6.01},{"x":-0.58,"y":6.14},{"x":-0.47,"y":5.98},{"x":-0.38,"y":6.1},{"x":-0.29,"y":6.03},{"x":-0.21,"y":6.17},{"x":-0.14,"y":5.97},{"x":-0.08,"y":6.09},{"x":-0.03,"y":6.02},{"x":0.02,"y":6.15},{"x":0.06,"y":5.99},{"x":0.1,"y":6.11},{"x":0.14,"y":6.05},{"x":0.17,"y":6.18},{"x":0.21,"y":5.96},{"x":0.24,"y":6.08},{"x":0.27,"y":6.13},{"x":0.3,"y":6.0},{"x":0.33,"y":6.16},{"x":0.36,"y":6.06},{"x":0.39,"y":5.98},{"x":0.42,"y":6.12},{"x":0.45,"y":6.03},{"x":0.48,"y":6.19},{"x":0.51,"y":6.07},{"x":0.54,"y":5.97},{"x":0.57,"y":6.14},{"x":0.6,"y":6.04},{"x":0.63,"y":6.1},{"x":0.66,"y":5.99},{"x":0.69,"y":6.17},{"x":0.72,"y":6.06},{"x":0.75,"y":6.01},{"x":0.79,"y":6.13},{"x":0.83,"y":6.05},{"x":0.87,"y":6.18},{"x":0.91,"y":5.98},{"x":0.96,"y":6.09},{"x":1.02,"y":6.02},{"x":1.09,"y":6.15},{"x":1.17,"y":6.05},{"x":1.26,"y":6.11},{"x":1.37,"y":5.99},{"x":1.5,"y":6.14},{"x":1.64,"y":6.07},{"x":-0.51,"y":6.06},{"x":-0.33,"y":6.19},{"x":-0.18,"y":6.07},{"x":-0.01,"y":6.05},{"x":0.12,"y":5.97},{"x":0.22,"y":6.12},{"x":0.31,"y":6.09},{"x":0.4,"y":6.17},{"x":0.47,"y":6.0},{"x":0.55,"y":6.09},{"x":0.62,"y":6.18},{"x":0.7,"y":6.02},{"x":0.78,"y":6.08},{"x":0.86,"y":6.01},{"x":0.99,"y":6.16},{"x":1.13,"y":6.0},{"x":0.08,"y":6.19},{"x":0.35,"y":6.01},{"x":0.66,"y":6.12},
{"x":-0.9,"y":6.33},{"x":-0.76,"y":6.26},{"x":-0.63,"y":6.4},{"x":-0.52,"y":6.23},{"x":-0.43,"y":6.36},{"x":-0.34,"y":6.29},{"x":-0.26,"y":6.43},{"x":-0.19,"y":6.22},{"x":-0.13,"y":6.34},{"x":-0.07,"y":6.27},{"x":-0.02,"y":6.41},{"x":0.03,"y":6.24},{"x":0.07,"y":6.37},{"x":0.11,"y":6.3},{"x":0.15,"y":6.44},{"x":0.18,"y":6.21},{"x":0.22,"y":6.33},{"x":0.25,"y":6.38},{"x":0.28,"y":6.25},{"x":0.31,"y":6.41},{"x":0.34,"y":6.31},{"x":0.37,"y":6.23},{"x":0.4,"y":6.37},{"x":0.43,"y":6.28},{"x":0.46,"y":6.44},{"x":0.49,"y":6.32},{"x":0.52,"y":6.22},{"x":0.55,"y":6.39},{"x":0.58,"y":6.29},{"x":0.61,"y":6.35},{"x":0.64,"y":6.24},{"x":0.67,"y":6.42},{"x":0.7,"y":6.31},{"x":0.73,"y":6.26},{"x":0.77,"y":6.38},{"x":0.81,"y":6.3},{"x":0.85,"y":6.43},{"x":0.89,"y":6.23},{"x":0.94,"y":6.34},{"x":0.99,"y":6.27},{"x":1.05,"y":6.4},{"x":1.12,"y":6.3},{"x":1.2,"y":6.36},{"x":1.3,"y":6.24},{"x":1.42,"y":6.39},{"x":1.58,"y":6.32},{"x":-0.56,"y":6.31},{"x":-0.39,"y":6.44},{"x":-0.22,"y":6.3},{"x":-0.05,"y":6.35},{"x":0.09,"y":6.22},{"x":0.2,"y":6.4},{"x":0.3,"y":6.33},{"x":0.38,"y":6.42},{"x":0.45,"y":6.25},{"x":0.53,"y":6.34},{"x":0.6,"y":6.43},{"x":0.68,"y":6.27},{"x":0.76,"y":6.33},{"x":0.84,"y":6.26},{"x":0.96,"y":6.41},{"x":1.09,"y":6.25},{"x":0.05,"y":6.44},{"x":0.33,"y":6.26},{"x":0.63,"y":6.37},{"x":0.13,"y":6.27},{"x":0.42,"y":6.33},{"x":0.72,"y":6.44},{"x":0.9,"y":6.36},{"x":-0.1,"y":6.24},
{"x":-0.92,"y":6.57},{"x":-0.77,"y":6.5},{"x":-0.64,"y":6.64},{"x":-0.53,"y":6.48},{"x":-0.44,"y":6.61},{"x":-0.35,"y":6.54},{"x":-0.27,"y":6.68},{"x":-0.2,"y":6.47},{"x":-0.14,"y":6.59},{"x":-0.08,"y":6.52},{"x":-0.03,"y":6.66},{"x":0.02,"y":6.49},{"x":0.06,"y":6.62},{"x":0.1,"y":6.55},{"x":0.14,"y":6.69},{"x":0.17,"y":6.46},{"x":0.21,"y":6.58},{"x":0.24,"y":6.63},{"x":0.27,"y":6.5},{"x":0.3,"y":6.66},{"x":0.33,"y":6.56},{"x":0.36,"y":6.48},{"x":0.39,"y":6.62},{"x":0.42,"y":6.53},{"x":0.45,"y":6.69},{"x":0.48,"y":6.57},{"x":0.51,"y":6.47},{"x":0.54,"y":6.64},{"x":0.57,"y":6.54},{"x":0.6,"y":6.6},{"x":0.63,"y":6.49},{"x":0.66,"y":6.67},{"x":0.69,"y":6.56},{"x":0.72,"y":6.51},{"x":0.76,"y":6.63},{"x":0.8,"y":6.55},{"x":0.84,"y":6.68},{"x":0.88,"y":6.48},{"x":0.93,"y":6.59},{"x":0.98,"y":6.52},{"x":1.04,"y":6.65},{"x":1.11,"y":6.55},{"x":1.19,"y":6.61},{"x":1.29,"y":6.49},{"x":1.41,"y":6.64},{"x":1.6,"y":6.57},{"x":-0.57,"y":6.56},{"x":-0.4,"y":6.69},{"x":-0.23,"y":6.55},{"x":-0.06,"y":6.6},{"x":0.08,"y":6.47},{"x":0.19,"y":6.65},{"x":0.29,"y":6.58},{"x":0.37,"y":6.67},{"x":0.44,"y":6.5},{"x":0.52,"y":6.59},{"x":0.59,"y":6.68},{"x":0.67,"y":6.52},{"x":0.75,"y":6.58},{"x":0.83,"y":6.51},{"x":0.95,"y":6.66},{"x":1.08,"y":6.5},{"x":0.04,"y":6.69},{"x":0.32,"y":6.51},{"x":0.62,"y":6.62},{"x":0.12,"y":6.52},{"x":0.41,"y":6.58},{"x":0.71,"y":6.69},{"x":0.89,"y":6.61},{"x":-0.11,"y":6.49},
{"x":-0.91,"y":6.82},{"x":-0.75,"y":6.75},{"x":-0.62,"y":6.89},{"x":-0.51,"y":6.73},{"x":-0.42,"y":6.86},{"x":-0.33,"y":6.79},{"x":-0.25,"y":6.93},{"x":-0.18,"y":6.72},{"x":-0.12,"y":6.84},{"x":-0.06,"y":6.77},{"x":-0.01,"y":6.91},{"x":0.04,"y":6.74},{"x":0.08,"y":6.87},{"x":0.12,"y":6.8},{"x":0.16,"y":6.94},{"x":0.19,"y":6.71},{"x":0.23,"y":6.83},{"x":0.26,"y":6.88},{"x":0.29,"y":6.75},{"x":0.32,"y":6.91},{"x":0.35,"y":6.81},{"x":0.38,"y":6.73},{"x":0.41,"y":6.87},{"x":0.44,"y":6.78},{"x":0.47,"y":6.94},{"x":0.5,"y":6.82},{"x":0.53,"y":6.72},{"x":0.56,"y":6.89},{"x":0.59,"y":6.79},{"x":0.62,"y":6.85},{"x":0.65,"y":6.74},{"x":0.68,"y":6.92},{"x":0.71,"y":6.81},{"x":0.74,"y":6.76},{"x":0.78,"y":6.88},{"x":0.82,"y":6.8},{"x":0.86,"y":6.93},{"x":0.9,"y":6.73},{"x":0.95,"y":6.84},{"x":1.0,"y":6.77},{"x":1.06,"y":6.9},{"x":1.13,"y":6.8},{"x":1.21,"y":6.86},{"x":1.31,"y":6.74},{"x":1.44,"y":6.89},{"x":-0.55,"y":6.81},{"x":-0.38,"y":6.94},{"x":-0.21,"y":6.8},{"x":-0.04,"y":6.85},{"x":0.1,"y":6.72},{"x":0.21,"y":6.9},{"x":0.31,"y":6.83},{"x":0.39,"y":6.92},{"x":0.46,"y":6.75},{"x":0.54,"y":6.84},{"x":0.61,"y":6.93},{"x":0.69,"y":6.77},{"x":0.77,"y":6.83},{"x":0.85,"y":6.76},{"x":0.97,"y":6.91},{"x":1.1,"y":6.75},{"x":0.06,"y":6.94},{"x":0.34,"y":6.76},{"x":0.64,"y":6.87},{"x":0.14,"y":6.77},{"x":0.43,"y":6.83},{"x":0.73,"y":6.94},{"x":0.92,"y":6.86},{"x":-0.09,"y":6.74},{"x":0.57,"y":6.71},
{"x":-0.83,"y":7.07},{"x":-0.68,"y":7.0},{"x":-0.55,"y":7.14},{"x":-0.45,"y":6.98},{"x":-0.36,"y":7.11},{"x":-0.28,"y":7.04},{"x":-0.21,"y":7.18},{"x":-0.14,"y":6.97},{"x":-0.08,"y":7.09},{"x":-0.02,"y":7.02},{"x":0.03,"y":7.16},{"x":0.07,"y":6.99},{"x":0.11,"y":7.12},{"x":0.15,"y":7.05},{"x":0.19,"y":7.19},{"x":0.22,"y":6.96},{"x":0.26,"y":7.08},{"x":0.29,"y":7.13},{"x":0.32,"y":7.0},{"x":0.35,"y":7.16},{"x":0.38,"y":7.06},{"x":0.41,"y":6.98},{"x":0.44,"y":7.12},{"x":0.47,"y":7.03},{"x":0.5,"y":7.19},{"x":0.53,"y":7.07},{"x":0.56,"y":6.97},{"x":0.59,"y":7.14},{"x":0.62,"y":7.04},{"x":0.65,"y":7.1},{"x":0.68,"y":6.99},{"x":0.71,"y":7.17},{"x":0.74,"y":7.06},{"x":0.78,"y":7.01},{"x":0.82,"y":7.13},{"x":0.86,"y":7.05},{"x":0.9,"y":7.18},{"x":0.95,"y":6.98},{"x":1.0,"y":7.09},{"x":1.06,"y":7.02},{"x":1.13,"y":7.15},{"x":1.22,"y":7.05},{"x":1.33,"y":7.11},{"x":1.47,"y":6.99},{"x":1.63,"y":7.14},{"x":-0.5,"y":7.06},{"x":-0.32,"y":7.19},{"x":-0.17,"y":7.05},{"x":0.0,"y":7.1},{"x":0.13,"y":6.97},{"x":0.24,"y":7.15},{"x":0.34,"y":7.08},{"x":0.43,"y":7.17},{"x":0.51,"y":7.0},{"x":0.58,"y":7.09},{"x":0.66,"y":7.18},{"x":0.73,"y":7.02},{"x":0.81,"y":7.08},{"x":0.88,"y":7.01},{"x":1.02,"y":7.16},{"x":1.16,"y":7.0},{"x":0.09,"y":7.19},{"x":0.37,"y":7.01},{"x":0.69,"y":7.12},{"x":0.17,"y":7.02},
{"x":-0.72,"y":7.32},{"x":-0.57,"y":7.25},{"x":-0.45,"y":7.39},{"x":-0.35,"y":7.23},{"x":-0.26,"y":7.36},{"x":-0.18,"y":7.29},{"x":-0.11,"y":7.43},{"x":-0.05,"y":7.22},{"x":0.01,"y":7.34},{"x":0.06,"y":7.27},{"x":0.11,"y":7.41},{"x":0.15,"y":7.24},{"x":0.19,"y":7.37},{"x":0.23,"y":7.3},{"x":0.27,"y":7.44},{"x":0.3,"y":7.21},{"x":0.34,"y":7.33},{"x":0.37,"y":7.38},{"x":0.41,"y":7.25},{"x":0.44,"y":7.41},{"x":0.48,"y":7.31},{"x":0.51,"y":7.23},{"x":0.55,"y":7.37},{"x":0.58,"y":7.28},{"x":0.62,"y":7.44},{"x":0.65,"y":7.32},{"x":0.69,"y":7.22},{"x":0.73,"y":7.39},{"x":0.77,"y":7.29},{"x":0.81,"y":7.35},{"x":0.86,"y":7.24},{"x":0.91,"y":7.42},{"x":0.97,"y":7.31},{"x":1.04,"y":7.26},{"x":1.12,"y":7.38},{"x":1.22,"y":7.3},{"x":1.34,"y":7.43},{"x":1.5,"y":7.25},{"x":-0.4,"y":7.31},{"x":-0.22,"y":7.44},{"x":-0.02,"y":7.3},{"x":0.13,"y":7.35},{"x":0.25,"y":7.26},{"x":0.39,"y":7.43},{"x":0.53,"y":7.34},{"x":0.67,"y":7.4},{"x":0.79,"y":7.23},{"x":0.93,"y":7.34},{"x":1.07,"y":7.44},{"x":0.08,"y":7.22},{"x":0.32,"y":7.27},{"x":0.46,"y":7.36},{"x":0.6,"y":7.21},{"x":0.84,"y":7.4},{"x":-0.08,"y":7.38},
{"x":-0.6,"y":7.57},{"x":-0.44,"y":7.5},{"x":-0.31,"y":7.64},{"x":-0.21,"y":7.48},{"x":-0.12,"y":7.61},{"x":-0.04,"y":7.54},{"x":0.03,"y":7.68},{"x":0.09,"y":7.47},{"x":0.15,"y":7.59},{"x":0.2,"y":7.52},{"x":0.25,"y":7.66},{"x":0.3,"y":7.49},{"x":0.34,"y":7.62},{"x":0.39,"y":7.55},{"x":0.43,"y":7.69},{"x":0.47,"y":7.46},{"x":0.52,"y":7.58},{"x":0.56,"y":7.63},{"x":0.6,"y":7.5},{"x":0.65,"y":7.66},{"x":0.69,"y":7.56},{"x":0.74,"y":7.48},{"x":0.79,"y":7.62},{"x":0.84,"y":7.53},{"x":0.9,"y":7.69},{"x":0.97,"y":7.57},{"x":1.05,"y":7.47},{"x":1.14,"y":7.64},{"x":1.26,"y":7.54},{"x":1.4,"y":7.6},{"x":1.58,"y":7.49},{"x":-0.27,"y":7.52},{"x":-0.08,"y":7.65},{"x":0.12,"y":7.63},{"x":0.27,"y":7.55},{"x":0.41,"y":7.5},{"x":0.54,"y":7.68},{"x":0.71,"y":7.64},{"x":0.87,"y":7.47},{"x":1.01,"y":7.61},{"x":0.06,"y":7.56},{"x":0.36,"y":7.69},{"x":0.62,"y":7.58},{"x":0.94,"y":7.51},{"x":0.18,"y":7.46},
{"x":-0.48,"y":7.82},{"x":-0.32,"y":7.76},{"x":-0.2,"y":7.9},{"x":-0.09,"y":7.73},{"x":0.0,"y":7.86},{"x":0.08,"y":7.79},{"x":0.15,"y":7.93},{"x":0.22,"y":7.72},{"x":0.28,"y":7.84},{"x":0.34,"y":7.89},{"x":0.4,"y":7.75},{"x":0.46,"y":7.91},{"x":0.51,"y":7.81},{"x":0.57,"y":7.73},{"x":0.62,"y":7.87},{"x":0.68,"y":7.78},{"x":0.74,"y":7.94},{"x":0.8,"y":7.82},{"x":0.87,"y":7.71},{"x":0.95,"y":7.88},{"x":1.04,"y":7.79},{"x":1.14,"y":7.85},{"x":1.27,"y":7.74},{"x":1.42,"y":7.9},{"x":-0.14,"y":7.8},{"x":0.12,"y":7.76},{"x":0.31,"y":7.78},{"x":0.49,"y":7.72},{"x":0.65,"y":7.92},{"x":0.83,"y":7.89},{"x":0.99,"y":7.73},{"x":0.05,"y":7.94},{"x":0.43,"y":7.85},{"x":0.71,"y":7.71},{"x":0.25,"y":7.92},
{"x":-0.38,"y":8.07},{"x":-0.2,"y":8.0},{"x":-0.06,"y":8.14},{"x":0.05,"y":7.98},{"x":0.14,"y":8.11},{"x":0.22,"y":8.04},{"x":0.3,"y":8.18},{"x":0.38,"y":7.97},{"x":0.45,"y":8.09},{"x":0.52,"y":8.14},{"x":0.59,"y":8.01},{"x":0.66,"y":8.16},{"x":0.73,"y":8.06},{"x":0.81,"y":7.99},{"x":0.9,"y":8.12},{"x":1.0,"y":8.04},{"x":1.12,"y":8.17},{"x":1.27,"y":8.02},{"x":0.1,"y":8.19},{"x":0.34,"y":8.06},{"x":0.56,"y":8.02},{"x":0.77,"y":8.19},{"x":0.96,"y":7.96},{"x":-0.12,"y":8.03},{"x":0.47,"y":8.2},
{"x":-0.28,"y":8.31},{"x":-0.08,"y":8.25},{"x":0.07,"y":8.39},{"x":0.18,"y":8.28},{"x":0.29,"y":8.43},{"x":0.39,"y":8.23},{"x":0.48,"y":8.35},{"x":0.58,"y":8.29},{"x":0.68,"y":8.41},{"x":0.79,"y":8.26},{"x":0.92,"y":8.37},{"x":1.08,"y":8.3},{"x":1.25,"y":8.42},{"x":0.23,"y":8.34},{"x":0.62,"y":8.22},
{"x":-0.15,"y":8.55},{"x":0.12,"y":8.62},{"x":0.31,"y":8.5},{"x":0.5,"y":8.68},{"x":0.66,"y":8.56},{"x":0.85,"y":8.63},{"x":1.05,"y":8.52},{"x":0.4,"y":8.72},
{"x":0.03,"y":5.74},{"x":0.18,"y":5.81},{"x":0.29,"y":5.77},{"x":0.41,"y":5.86},{"x":0.53,"y":5.8},{"x":0.66,"y":5.9},{"x":0.79,"y":5.83},{"x":0.88,"y":5.76},{"x":0.06,"y":5.95},{"x":0.14,"y":6.02},{"x":0.23,"y":5.97},{"x":0.37,"y":6.05},{"x":0.46,"y":5.93},{"x":0.58,"y":6.01},{"x":0.68,"y":6.07},{"x":0.81,"y":5.96},{"x":0.1,"y":6.09},{"x":0.27,"y":6.16},{"x":0.43,"y":6.12},{"x":0.52,"y":6.18},{"x":0.74,"y":6.14},{"x":0.85,"y":6.1},{"x":0.01,"y":6.21},{"x":0.16,"y":6.26},{"x":0.26,"y":6.2},{"x":0.35,"y":6.29},{"x":0.47,"y":6.23},{"x":0.57,"y":6.31},{"x":0.65,"y":6.21},{"x":0.79,"y":6.28},{"x":0.91,"y":6.22},{"x":0.08,"y":6.33},{"x":0.19,"y":6.38},{"x":0.32,"y":6.36},{"x":0.44,"y":6.41},{"x":0.56,"y":6.37},{"x":0.66,"y":6.32},{"x":0.75,"y":6.42},{"x":0.87,"y":6.39},{"x":0.0,"y":6.47},{"x":0.12,"y":6.44},{"x":0.22,"y":6.51},{"x":0.31,"y":6.46},{"x":0.4,"y":6.53},{"x":0.5,"y":6.49},{"x":0.61,"y":6.55},{"x":0.7,"y":6.46},{"x":0.81,"y":6.53},{"x":0.92,"y":6.48},{"x":0.05,"y":6.6},{"x":0.17,"y":6.57},{"x":0.27,"y":6.64},{"x":0.38,"y":6.58},{"x":0.49,"y":6.65},{"x":0.58,"y":6.59},{"x":0.68,"y":6.63},{"x":0.78,"y":6.57},{"x":0.9,"y":6.64},{"x":0.02,"y":6.71},{"x":0.13,"y":6.76},{"x":0.24,"y":6.7},{"x":0.33,"y":6.78},{"x":0.43,"y":6.72},{"x":0.52,"y":6.79},{"x":0.63,"y":6.7},{"x":0.72,"y":6.77},{"x":0.83,"y":6.72},{"x":0.94,"y":6.79},{"x":0.07,"y":6.86},{"x":0.18,"y":6.83},{"x":0.28,"y":6.9},{"x":0.39,"y":6.85},{"x":0.48,"y":6.91},{"x":0.59,"y":6.86},{"x":0.69,"y":6.83},{"x":0.8,"y":6.9},{"x":0.89,"y":6.85},{"x":0.04,"y":6.96},{"x":0.15,"y":7.01},{"x":0.25,"y":6.95},{"x":0.36,"y":7.03},{"x":0.46,"y":6.98},{"x":0.55,"y":7.05},{"x":0.64,"y":6.97},{"x":0.75,"y":7.04},{"x":0.86,"y":6.99},{"x":0.1,"y":7.09},{"x":0.21,"y":7.13},{"x":0.31,"y":7.07},{"x":0.42,"y":7.14},{"x":0.52,"y":7.1},{"x":0.62,"y":7.16},{"x":0.72,"y":7.09},{"x":0.84,"y":7.14},{"x":0.06,"y":7.21},{"x":0.17,"y":7.26},{"x":0.28,"y":7.2},{"x":0.39,"y":7.28},{"x":0.5,"y":7.23},{"x":0.61,"y":7.3},{"x":0.71,"y":7.24},{"x":0.82,"y":7.31},{"x":0.13,"y":7.36},{"x":0.24,"y":7.41},{"x":0.35,"y":7.34},{"x":0.46,"y":7.42},{"x":0.57,"y":7.37},{"x":0.68,"y":7.44},{"x":0.78,"y":7.38},{"x":-0.15,"y":6.15},{"x":-0.2,"y":6.62},{"x":-0.12,"y":6.98},{"x":-0.18,"y":6.4},{"x":-0.09,"y":5.88},{"x":1.02,"y":6.3},{"x":1.05,"y":6.75},{"x":0.98,"y":7.05},{"x":1.1,"y":6.55},{"x":0.96,"y":6.02},{"x":-0.24,"y":6.85},{"x":-0.05,"y":7.28},{"x":1.0,"y":7.36},{"x":0.3,"y":7.52},{"x":0.55,"y":7.55},{"x":0.2,"y":5.67},{"x":0.6,"y":5.62},{"x":-0.28,"y":6.25},{"x":1.15,"y":6.92},{"x":0.37,"y":5.56},
{"x":-0.79,"y":4.28},{"x":-0.75,"y":4.92},{"x":-0.64,"y":4.7},{"x":-0.59,"y":4.96},{"x":-0.56,"y":4.35},{"x":-0.56,"y":5.13},{"x":-0.56,"y":5.22},{"x":-0.58,"y":5.64},{"x":-0.56,"y":5.97},{"x":-0.87,"y":5.57},{"x":-0.82,"y":5.6},{"x":-0.7,"y":6.51},{"x":-0.73,"y":6.64},{"x":-0.56,"y":6.65},{"x":-0.89,"y":7.11},{"x":-0.78,"y":7.2},{"x":-1.0,"y":7.35},{"x":-0.67,"y":7.4},{"x":-0.63,"y":7.25},{"x":-0.63,"y":7.33},{"x":-0.62,"y":7.8},{"x":-0.53,"y":8.02},{"x":-0.64,"y":8.23},{"x":-0.35,"y":8.26},{"x":-0.33,"y":7.99},{"x":-0.4,"y":7.69},{"x":-0.34,"y":7.6},{"x":-0.46,"y":3.93},{"x":-0.45,"y":4.4},{"x":-0.41,"y":3.48},{"x":-0.33,"y":3.33},{"x":-0.74,"y":2.63},{"x":-0.68,"y":2.89},{"x":-0.51,"y":5.61},{"x":-0.49,"y":5.84},{"x":-0.49,"y":5.49},{"x":-0.47,"y":5.34},{"x":-0.43,"y":4.68},{"x":-0.46,"y":4.76}
],
"solid":[{"i":0,"x":-0.806,"y":2.978},{"i":1,"x":-0.806,"y":2.581},{"i":2,"x":-0.8,"y":2.16},{"i":3,"x":-0.789,"y":1.883},{"i":4,"x":-0.772,"y":1.799},{"i":5,"x":-0.75,"y":1.751},{"i":6,"x":-0.733,"y":1.619},{"i":7,"x":-0.706,"y":1.378},{"i":8,"x":-0.672,"y":1.113},{"i":9,"x":-0.633,"y":0.872},{"i":10,"x":-0.606,"y":0.68},{"i":11,"x":-0.589,"y":0.548},{"i":12,"x":-0.689,"y":0.475},{"i":13,"x":-0.672,"y":0.211},{"i":14,"x":-0.622,"y":-0.066},{"i":15,"x":-0.578,"y":-0.307},{"i":16,"x":-0.511,"y":-0.548},{"i":17,"x":-0.467,"y":-0.596},{"i":18,"x":-0.361,"y":-0.596},{"i":19,"x":-0.233,"y":-0.572},{"i":20,"x":-0.083,"y":-0.511},{"i":21,"x":0.044,"y":-0.427},{"i":22,"x":0.139,"y":-0.343},{"i":23,"x":0.228,"y":-0.247},{"i":24,"x":0.339,"y":-0.102},{"i":25,"x":0.417,"y":0.054},{"i":26,"x":0.528,"y":0.259},{"i":27,"x":0.639,"y":0.499},{"i":28,"x":0.75,"y":0.812},{"i":29,"x":0.894,"y":1.053},{"i":30,"x":1.028,"y":1.294},{"i":31,"x":1.211,"y":1.619},{"i":32,"x":1.467,"y":1.98},{"i":33,"x":1.65,"y":2.244},{"i":34,"x":1.911,"y":2.581},{"i":35,"x":2.167,"y":2.966}],
"dashdot":[{"i":0,"x":-0.894,"y":2.978},{"i":1,"x":-0.9,"y":2.461},{"i":2,"x":-0.9,"y":1.98},{"i":3,"x":-0.894,"y":1.498},{"i":4,"x":-0.883,"y":1.077},{"i":5,"x":-0.867,"y":0.656},{"i":6,"x":-0.844,"y":0.114},{"i":7,"x":-0.817,"y":-0.247},{"i":8,"x":-0.772,"y":-0.632},{"i":9,"x":-0.733,"y":-0.969},{"i":10,"x":-0.694,"y":-1.294},{"i":11,"x":-0.661,"y":-1.57},{"i":12,"x":-0.633,"y":-1.835},{"i":13,"x":-0.611,"y":-2.052},{"i":14,"x":-0.594,"y":-2.232},{"i":15,"x":-0.55,"y":-2.244},{"i":16,"x":-0.528,"y":-2.377},{"i":17,"x":-0.5,"y":-2.533},{"i":18,"x":-0.472,"y":-2.617},{"i":19,"x":-0.372,"y":-2.617},{"i":20,"x":-0.356,"y":-2.677},{"i":21,"x":-0.289,"y":-2.69},{"i":22,"x":-0.106,"y":-2.653},{"i":23,"x":0.139,"y":-2.533},{"i":24,"x":0.283,"y":-2.389},{"i":25,"x":0.433,"y":-2.268},{"i":26,"x":0.361,"y":-2.256},{"i":27,"x":0.394,"y":-2.148},{"i":28,"x":0.561,"y":-1.968},{"i":29,"x":0.6,"y":-1.931},{"i":30,"x":0.783,"y":-1.51},{"i":31,"x":0.933,"y":-1.149},{"i":32,"x":1.056,"y":-0.848},{"i":33,"x":1.261,"y":-0.584},{"i":34,"x":1.433,"y":-0.307},{"i":35,"x":1.6,"y":-0.03},{"i":36,"x":1.822,"y":0.295},{"i":37,"x":2.067,"y":0.62},{"i":38,"x":2.211,"y":0.872},{"i":39,"x":2.378,"y":1.137},{"i":40,"x":2.656,"y":1.582},{"i":41,"x":3.022,"y":2.136},{"i":42,"x":3.322,"y":2.557},{"i":43,"x":3.633,"y":2.966}],
"zahb":[{"i":0,"x":-0.411,"y":3.135},{"i":1,"x":-0.161,"y":3.026},{"i":2,"x":0.044,"y":2.99},{"i":3,"x":0.172,"y":2.978},{"i":4,"x":0.244,"y":3.026},{"i":5,"x":0.472,"y":3.279},{"i":6,"x":0.539,"y":3.363},{"i":7,"x":0.756,"y":3.652},{"i":8,"x":0.817,"y":3.748},{"i":9,"x":1.033,"y":4.037},{"i":10,"x":1.1,"y":4.146},{"i":11,"x":1.183,"y":4.266},{"i":12,"x":1.322,"y":4.398},{"i":13,"x":1.389,"y":4.482},{"i":14,"x":1.539,"y":4.675}],
"tri":[{"x":-0.641,"y":-1.671},{"x":-0.17,"y":-0.267},{"x":0.662,"y":-0.568},{"x":1.602,"y":0.154}],
"sq":[{"x":-0.924,"y":-2.928},{"x":0.684,"y":-2.189},{"x":0.605,"y":-2.041}],
"circ":[{"x":-0.565,"y":-1.904},{"x":-0.048,"y":-2.072},{"x":0.124,"y":-1.916},{"x":0.157,"y":-1.694},{"x":-0.159,"y":-1.562},{"x":-0.191,"y":-1.33},{"x":-0.017,"y":-1.302},{"x":0.115,"y":-1.362},{"x":0.394,"y":-1.201},{"x":-0.389,"y":-1.125},{"x":-0.332,"y":-0.996},{"x":-0.311,"y":-0.881},{"x":-0.044,"y":-1.105},{"x":-0.165,"y":-0.941},{"x":0.359,"y":-0.948},{"x":-0.191,"y":-0.732},{"x":-0.113,"y":-0.7},{"x":-0.065,"y":-0.72},{"x":0.061,"y":-0.845},{"x":0.171,"y":-0.893},{"x":0.057,"y":-0.599},{"x":0.113,"y":-0.479},{"x":0.207,"y":-0.536},{"x":0.202,"y":-0.315},{"x":0.493,"y":-0.635},{"x":0.507,"y":-0.536},{"x":0.493,"y":-0.424},{"x":0.656,"y":-0.548},{"x":0.661,"y":-0.52},{"x":0.65,"y":-0.267},{"x":0.337,"y":-0.147},{"x":0.448,"y":-0.106},{"x":0.522,"y":-0.002},{"x":0.571,"y":0.118},{"x":0.552,"y":0.238},{"x":0.606,"y":0.279},{"x":0.661,"y":0.335},{"x":0.633,"y":0.407},{"x":0.656,"y":0.544}],
"crs":[{"x":-0.057,"y":-0.159},{"x":0.082,"y":-0.102},{"x":-0.267,"y":-0.026},{"x":-0.2,"y":0.142},{"x":-0.224,"y":0.339},{"x":-0.104,"y":0.367},{"x":-0.072,"y":0.367},{"x":-0.072,"y":0.459},{"x":-0.137,"y":0.503},{"x":-0.329,"y":0.455},{"x":-0.296,"y":0.599},{"x":-0.461,"y":0.472},{"x":0.144,"y":0.439},{"x":0.348,"y":0.472},{"x":0.452,"y":0.231},{"x":0.706,"y":0.78},{"x":0.032,"y":0.7},{"x":0.028,"y":0.876},{"x":-0.083,"y":0.776},{"x":-0.379,"y":0.965},{"x":-0.348,"y":0.957},{"x":-0.218,"y":0.965},{"x":-0.182,"y":0.929},{"x":-0.252,"y":1.109},{"x":-0.079,"y":1.085},{"x":-0.282,"y":1.237},{"x":-0.248,"y":1.29},{"x":-0.079,"y":1.297},{"x":-0.057,"y":1.357},{"x":0.072,"y":1.258},{"x":0.096,"y":1.149},{"x":0.083,"y":1.306},{"x":0.248,"y":1.254},{"x":0.326,"y":1.306},{"x":0.379,"y":1.113},{"x":0.402,"y":1.194},{"x":0.506,"y":1.326},{"x":0.583,"y":1.369},{"x":0.63,"y":1.39},{"x":0.556,"y":1.519},{"x":0.337,"y":1.51},{"x":0.154,"y":1.519},{"x":0.128,"y":1.594},{"x":0.067,"y":1.466},{"x":0.028,"y":1.567},{"x":-0.079,"y":1.55},{"x":-0.057,"y":1.586},{"x":-0.104,"y":1.474},{"x":-0.146,"y":1.519},{"x":-0.165,"y":1.646},{"x":-0.209,"y":1.446},{"x":-0.252,"y":1.486},{"x":-0.306,"y":1.55},{"x":-0.365,"y":1.446},{"x":-0.368,"y":1.538},{"x":-0.407,"y":1.378},{"x":-0.471,"y":1.534},{"x":-0.574,"y":1.394},{"x":-0.613,"y":1.751},{"x":-0.326,"y":1.719},{"x":-0.298,"y":1.619},{"x":-0.104,"y":1.767},{"x":-0.076,"y":1.759},{"x":-0.024,"y":1.747},{"x":0.082,"y":1.751},{"x":0.448,"y":1.711},{"x":0.485,"y":1.694},{"x":0.652,"y":1.743},{"x":0.698,"y":1.727},{"x":-0.215,"y":-0.147},{"x":-0.171,"y":-0.214}],
"legtext":[{"t":"ZAHB","x":4.013,"y":-2.948},{"t":"known PAGB","x":3.106,"y":-1.953},{"t":"PAGB candidate","x":3.115,"y":-0.909},{"t":"P(E)AGB candidate","x":3.112,"y":0.102},{"t":"AGBM candidate","x":3.112,"y":1.098}]
},
"layer":[
{"data":{"name":"dots"},"mark":{"type":"circle","size":14,"color":"#737373","opacity":1},
 "encoding":{
  "x":{"field":"x","type":"quantitative","scale":{"domain":[-1.5,4.878],"nice":false,"zero":false},
   "axis":{"orient":"bottom","values":[0,2,4],"tickSize":-22,"labelPadding":38,"labelFont":"Liberation Serif","labelFontSize":33,"labelColor":"#000","domain":true,"title":"M","titleFont":"Liberation Serif","titleFontSize":34,"titleAlign":"left","titleBaseline":"alphabetic","titleAngle":0,"titleX":499,"titleY":81}},
  "y":{"field":"y","type":"quantitative","scale":{"domain":[-3.907,10],"reverse":true,"nice":false,"zero":false},
   "axis":{"orient":"left","values":[0,5,10],"tickSize":-22,"labelPadding":43,"labelFont":"Liberation Serif","labelFontSize":33,"labelColor":"#000","domain":true,"title":"M","titleFont":"Liberation Serif","titleFontSize":34,"titleAlign":"left","titleBaseline":"alphabetic","titleAngle":270,"titleX":-88,"titleY":632}}}},
{"data":{"name":"solid"},"mark":{"type":"line","stroke":"#000","strokeWidth":2.5},
 "encoding":{
  "x":{"field":"x","type":"quantitative","axis":{"orient":"top","values":[0,2,4],"tickSize":-22,"labels":false,"domain":true,"title":null}},
  "y":{"field":"y","type":"quantitative","axis":{"orient":"right","values":[0,5,10],"tickSize":-22,"labels":false,"domain":false,"title":null}},
  "order":{"field":"i","type":"quantitative"}}},
{"data":{"name":"dashdot"},"mark":{"type":"line","stroke":"#000","strokeWidth":2.5,"strokeDash":[14,6,3,6]},
 "encoding":{
  "x":{"field":"x","type":"quantitative","axis":{"orient":"bottom","values":[-1.5,-1,-0.5,0.5,1,1.5,2.5,3,3.5,4.5],"tickSize":-11,"labels":false,"domain":false,"title":"FUV","titleFont":"Liberation Serif","titleFontSize":21,"titleAlign":"left","titleBaseline":"alphabetic","titleAngle":0,"titleX":527,"titleY":89}},
  "y":{"field":"y","type":"quantitative","axis":{"orient":"left","values":[-3,-2,-1,1,2,3,4,6,7,8,9],"tickSize":-11,"labels":false,"domain":false,"title":"FUV","titleFont":"Liberation Serif","titleFontSize":14,"titleAlign":"left","titleBaseline":"alphabetic","titleAngle":270,"titleX":-79,"titleY":606}},
  "order":{"field":"i","type":"quantitative"}}},
{"data":{"name":"zahb"},"mark":{"type":"line","stroke":"#000","strokeWidth":2.5,"strokeDash":[46,14]},
 "encoding":{
  "x":{"field":"x","type":"quantitative","axis":{"orient":"top","values":[-1.5,-1,-0.5,0.5,1,1.5,2.5,3,3.5,4.5],"tickSize":-11,"labels":false,"domain":false,"title":null}},
  "y":{"field":"y","type":"quantitative","axis":{"orient":"right","values":[-3,-2,-1,1,2,3,4,6,7,8,9],"tickSize":-11,"labels":false,"domain":false,"title":null}},
  "order":{"field":"i","type":"quantitative"}}},
{"data":{"name":"crs"},"mark":{"type":"point","shape":"M-1,-1L1,1M-1,1L1,-1","size":100,"filled":false,"stroke":"#000","strokeWidth":2.2,"opacity":1},
 "encoding":{
  "x":{"field":"x","type":"quantitative","axis":{"orient":"bottom","ticks":false,"labels":false,"domain":false,"title":"−M","titleFont":"Liberation Serif","titleFontSize":34,"titleAlign":"left","titleBaseline":"alphabetic","titleAngle":0,"titleX":568,"titleY":81}},
  "y":{"field":"y","type":"quantitative","axis":null}}},
{"data":{"name":"circ"},"mark":{"type":"circle","size":95,"color":"#000","opacity":1},
 "encoding":{
  "x":{"field":"x","type":"quantitative","axis":{"orient":"bottom","ticks":false,"labels":false,"domain":false,"title":"NUV","titleFont":"Liberation Serif","titleFontSize":21,"titleAlign":"left","titleBaseline":"alphabetic","titleAngle":0,"titleX":616,"titleY":89}},
  "y":{"field":"y","type":"quantitative","axis":null}}},
{"data":{"name":"sq"},"mark":{"type":"square","size":125,"color":"#000","opacity":1},
 "encoding":{"x":{"field":"x","type":"quantitative","axis":null},"y":{"field":"y","type":"quantitative","axis":null}}},
{"data":{"name":"tri"},"mark":{"type":"point","shape":"triangle-up","size":1000,"filled":true,"fill":"#7a7a7a","stroke":"#111","strokeWidth":2.5,"opacity":1},
 "encoding":{"x":{"field":"x","type":"quantitative","axis":null},"y":{"field":"y","type":"quantitative","axis":null}}},
{"data":{"values":[{"x":2.903,"x2":3.89,"y":-3.016}]},"mark":{"type":"rule","stroke":"#000","strokeWidth":2.5,"strokeDash":[20,12]},
 "encoding":{"x":{"field":"x","type":"quantitative","axis":null},"x2":{"field":"x2"},"y":{"field":"y","type":"quantitative","axis":null}}},
{"data":{"values":[{"x":3.016,"y":-2.035}]},"mark":{"type":"point","shape":"triangle-up","size":400,"filled":true,"fill":"#7a7a7a","stroke":"#111","strokeWidth":1.2,"opacity":1},
 "encoding":{"x":{"field":"x","type":"quantitative","axis":null},"y":{"field":"y","type":"quantitative","axis":null}}},
{"data":{"values":[{"x":3.003,"y":-0.999}]},"mark":{"type":"square","size":256,"color":"#000","opacity":1},
 "encoding":{"x":{"field":"x","type":"quantitative","axis":null},"y":{"field":"y","type":"quantitative","axis":null}}},
{"data":{"values":[{"x":3.0,"y":0.006}]},"mark":{"type":"circle","size":283,"color":"#000","opacity":1},
 "encoding":{"x":{"field":"x","type":"quantitative","axis":null},"y":{"field":"y","type":"quantitative","axis":null}}},
{"data":{"values":[{"x":3.005,"y":0.987}]},"mark":{"type":"point","shape":"M-1,-1L1,1M-1,1L1,-1","size":289,"filled":false,"stroke":"#000","strokeWidth":1.5,"opacity":1},
 "encoding":{"x":{"field":"x","type":"quantitative","axis":null},"y":{"field":"y","type":"quantitative","axis":null}}},
{"data":{"name":"legtext"},"mark":{"type":"text","font":"DejaVu Serif","fontSize":30,"align":"left","baseline":"alphabetic","color":"#000"},
 "encoding":{"x":{"field":"x","type":"quantitative","axis":null},"y":{"field":"y","type":"quantitative","axis":null},"text":{"field":"t"}}}
],
"resolve":{"axis":{"x":"independent","y":"independent"}}
}
